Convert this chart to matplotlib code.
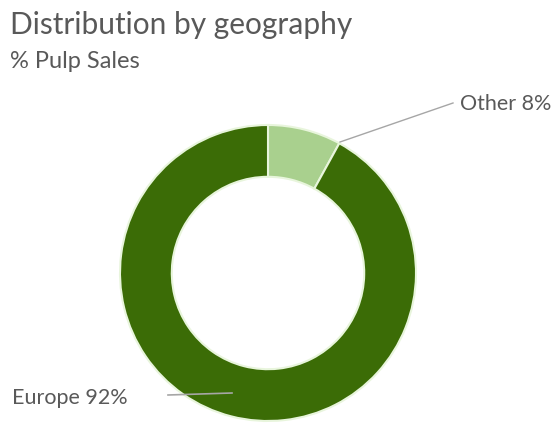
import matplotlib
matplotlib.use("Agg")
import matplotlib.pyplot as plt

labels = ["Other", "Europe"]
values = [8, 92]
colors = ["#a9d08e", "#3b6c06"]

W, H = 555, 423
fig = plt.figure(figsize=(W / 100, H / 100), dpi=100)
ax = fig.add_axes([0, 0, 1, 1])

cx, cy, r = 268, H - 273, 148
wedges, _ = ax.pie(values, colors=colors, startangle=90, counterclock=False,
                   center=(cx, cy), radius=r, frame=True,
                   wedgeprops=dict(width=r * 0.35, edgecolor="#e8f5dc", linewidth=1.5))
ax.set_xlim(0, W)
ax.set_ylim(0, H)
ax.set_aspect("equal")
ax.axis("off")

font = "Lato"
fig.text(10 / W, 1 - 25 / H, "Distribution by geography", fontsize=21.5, color="#595959",
         family=font, va="center", ha="left")
fig.text(10 / W, 1 - 61 / H, "% Pulp Sales", fontsize=17, color="#595959",
         family=font, va="center", ha="left")

# Labels with leader lines
ax.plot([340, 453], [H - 142, H - 103], color="#a6a6a6", lw=1)
ax.text(460, H - 104, f"{labels[0]} {values[0]}%", fontsize=15.5, color="#595959",
        family=font, va="center", ha="left")
ax.plot([168, 232], [H - 395, H - 393], color="#a6a6a6", lw=1.2)
ax.text(12, H - 398, f"{labels[1]} {values[1]}%", fontsize=15.5, color="#595959",
        family=font, va="center", ha="left")

fig.savefig("out.png", dpi=100)
